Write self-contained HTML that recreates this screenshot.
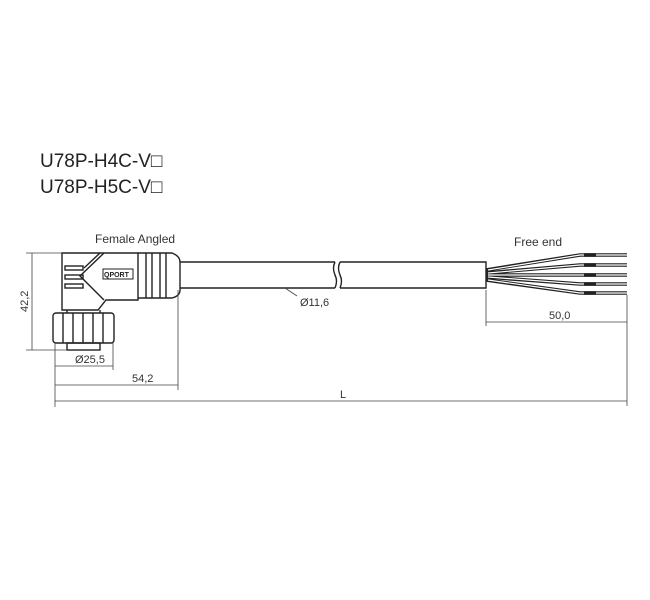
<!DOCTYPE html>
<html><head><meta charset="utf-8"><style>body{margin:0;background:#fff}svg{display:block}</style></head><body>
<svg width="650" height="600" viewBox="0 0 650 600" xmlns="http://www.w3.org/2000/svg" font-family="Liberation Sans, sans-serif">
<text x="40" y="167" font-size="19" fill="#222">U78P-H4C-V□</text>
<text x="40" y="193" font-size="19" fill="#222">U78P-H5C-V□</text>
<text x="95" y="243" font-size="12" fill="#333">Female Angled</text>
<text x="514" y="246" font-size="12" fill="#333">Free end</text>
<g fill="none" stroke="#222" stroke-width="1.4">
<path d="M62 253 H138 V300 H106 L98 310 H62 Z"/>
<path d="M104 253 L80 276 L104 300 M100 253 L84 268"/>
<rect x="65" y="266" width="18" height="4"/><rect x="65" y="275" width="18" height="4"/><rect x="65" y="284" width="18" height="4"/>
<rect x="103" y="269" width="30" height="10" stroke-width="1"/>
<path d="M138 253 H172 Q180 256 180 262 V290 Q180 296 172 298 H138"/>
<line x1="146" y1="253" x2="146" y2="298"/><line x1="152" y1="253" x2="152" y2="298"/><line x1="160" y1="253" x2="160" y2="298"/><line x1="166" y1="253" x2="166" y2="298"/>
<rect x="53" y="313" width="61" height="30" rx="3"/>
<line x1="63" y1="313" x2="63" y2="343"/><line x1="73" y1="313" x2="73" y2="343"/><line x1="83" y1="313" x2="83" y2="343"/><line x1="93" y1="313" x2="93" y2="343"/><line x1="103" y1="313" x2="103" y2="343"/>
<rect x="67" y="343" width="33" height="7"/>
<line x1="67" y1="310" x2="67" y2="313"/><line x1="100" y1="310" x2="100" y2="313"/>
<path d="M180 262 H335 M180 288 H335 M340 262 H486 V288 H340"/>
<path d="M335 262 q-3 6 0 13 q3 6 0 13 M340 262 q-3 6 0 13 q3 6 0 13"/>
<path d="M486 270 L580 255 H627 M486 273 L580 265 H627 M486 275 H627 M486 277 L580 284 H627 M486 280 L580 293 H627" stroke-width="3.6"/>
</g>
<g fill="none" stroke="#fff" stroke-width="1.2">
<path d="M488 270 L580 255 H627 M488 273 L580 265 H627 M488 275 H627 M488 277 L580 284 H627 M488 280 L580 293 H627"/>
</g>
<g stroke="#222" stroke-width="3.6"><line x1="584" y1="255" x2="596" y2="255"/><line x1="584" y1="265" x2="596" y2="265"/><line x1="584" y1="275" x2="596" y2="275"/><line x1="584" y1="284" x2="596" y2="284"/><line x1="584" y1="293" x2="596" y2="293"/></g>
<text x="104" y="277" font-size="7" font-weight="bold" fill="#222">QPORT</text>
<g stroke="#444" stroke-width="0.8" fill="none">
<line x1="26" y1="253" x2="62" y2="253"/><line x1="26" y1="350" x2="67" y2="350"/>
<line x1="32" y1="253" x2="32" y2="350"/>
<line x1="55" y1="343" x2="55" y2="407"/><line x1="113" y1="343" x2="113" y2="370"/>
<line x1="55" y1="366" x2="113" y2="366"/>
<line x1="178" y1="290" x2="178" y2="390"/>
<line x1="55" y1="385" x2="178" y2="385"/>
<line x1="55" y1="401" x2="627" y2="401"/>
<line x1="627" y1="295" x2="627" y2="406"/><line x1="486" y1="290" x2="486" y2="326"/>
<line x1="486" y1="322" x2="627" y2="322"/>
<line x1="285" y1="288" x2="297" y2="296"/>
</g>
<g font-size="11" fill="#333">
<text x="75" y="363">Ø25,5</text>
<text x="132" y="382">54,2</text>
<text x="340" y="398">L</text>
<text x="549" y="319">50,0</text>
<text x="300" y="306">Ø11,6</text>
<text transform="translate(28,312) rotate(-90)">42,2</text>
</g>
</svg>
</body></html>
